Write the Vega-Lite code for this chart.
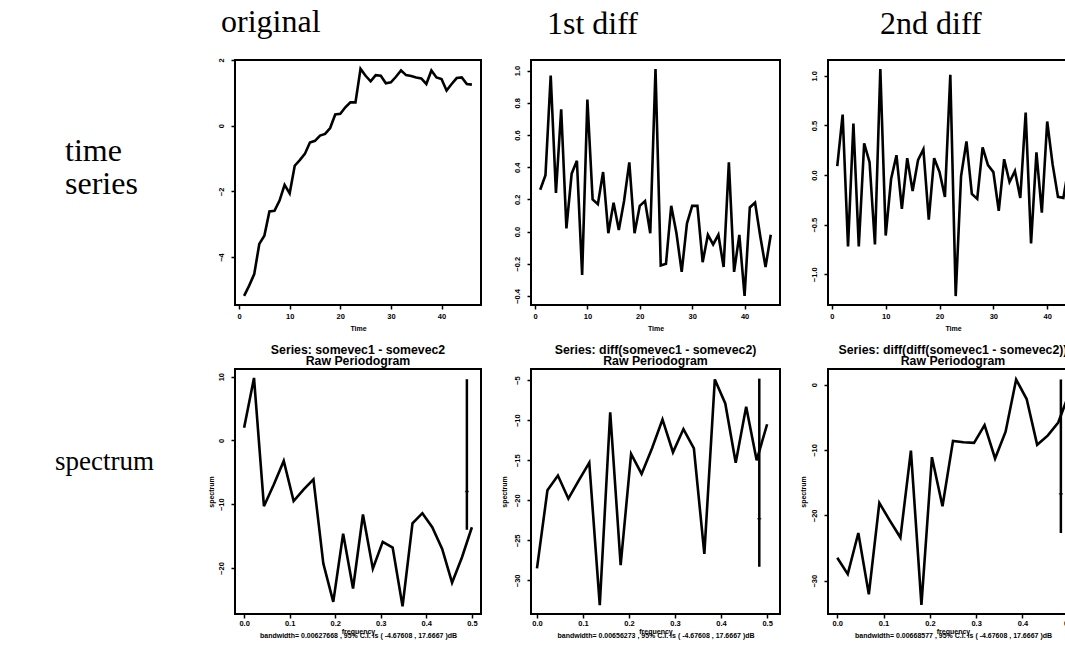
{
  "$schema": "https://vega.github.io/schema/vega-lite/v6.json",
  "background": "white",
  "padding": {"left": 5, "top": 4, "right": 0, "bottom": 0},
  "columns": 4,
  "spacing": {"row": 9, "column": 17},
  "datasets": {
    "orig": [
      {"t":1,"v":-5.18},{"t":2,"v":-4.87},{"t":3,"v":-4.52},{"t":4,"v":-3.60},{"t":5,"v":-3.35},{"t":6,"v":-2.61},{"t":7,"v":-2.59},{"t":8,"v":-2.28},{"t":9,"v":-1.80},{"t":10,"v":-2.06},
      {"t":11,"v":-1.22},{"t":12,"v":-1.05},{"t":13,"v":-0.86},{"t":14,"v":-0.51},{"t":15,"v":-0.46},{"t":16,"v":-0.30},{"t":17,"v":-0.25},{"t":18,"v":-0.07},{"t":19,"v":0.34},{"t":20,"v":0.36},
      {"t":21,"v":0.56},{"t":22,"v":0.71},{"t":23,"v":0.71},{"t":24,"v":1.73},{"t":25,"v":1.52},{"t":26,"v":1.35},{"t":27,"v":1.54},{"t":28,"v":1.52},{"t":29,"v":1.29},{"t":30,"v":1.32},
      {"t":31,"v":1.49},{"t":32,"v":1.68},{"t":33,"v":1.54},{"t":34,"v":1.51},{"t":35,"v":1.47},{"t":36,"v":1.44},{"t":37,"v":1.27},{"t":38,"v":1.68},{"t":39,"v":1.47},{"t":40,"v":1.42},
      {"t":41,"v":1.07},{"t":42,"v":1.27},{"t":43,"v":1.45},{"t":44,"v":1.47},{"t":45,"v":1.27},{"t":46,"v":1.25}
    ],
    "d1": [
      {"t":1,"v":0.26},{"t":2,"v":0.35},{"t":3,"v":0.97},{"t":4,"v":0.24},{"t":5,"v":0.76},{"t":6,"v":0.02},{"t":7,"v":0.36},{"t":8,"v":0.44},{"t":9,"v":-0.27},{"t":10,"v":0.82},
      {"t":11,"v":0.20},{"t":12,"v":0.17},{"t":13,"v":0.37},{"t":14,"v":-0.01},{"t":15,"v":0.18},{"t":16,"v":0.01},{"t":17,"v":0.19},{"t":18,"v":0.43},{"t":19,"v":-0.01},{"t":20,"v":0.16},
      {"t":21,"v":0.19},{"t":22,"v":-0.01},{"t":23,"v":1.01},{"t":24,"v":-0.21},{"t":25,"v":-0.20},{"t":26,"v":0.16},{"t":27,"v":-0.01},{"t":28,"v":-0.25},{"t":29,"v":0.05},{"t":30,"v":0.16},
      {"t":31,"v":0.16},{"t":32,"v":-0.19},{"t":33,"v":-0.02},{"t":34,"v":-0.08},{"t":35,"v":-0.02},{"t":36,"v":-0.22},{"t":37,"v":0.43},{"t":38,"v":-0.25},{"t":39,"v":-0.02},{"t":40,"v":-0.40},
      {"t":41,"v":0.15},{"t":42,"v":0.18},{"t":43,"v":-0.03},{"t":44,"v":-0.22},{"t":45,"v":-0.02}
    ],
    "d2": [
      {"t":1,"v":0.09},{"t":2,"v":0.61},{"t":3,"v":-0.72},{"t":4,"v":0.52},{"t":5,"v":-0.72},{"t":6,"v":0.32},{"t":7,"v":0.13},{"t":8,"v":-0.70},{"t":9,"v":1.07},{"t":10,"v":-0.61},
      {"t":11,"v":-0.04},{"t":12,"v":0.20},{"t":13,"v":-0.34},{"t":14,"v":0.17},{"t":15,"v":-0.16},{"t":16,"v":0.15},{"t":17,"v":0.26},{"t":18,"v":-0.45},{"t":19,"v":0.17},{"t":20,"v":0.03},
      {"t":21,"v":-0.22},{"t":22,"v":1.01},{"t":23,"v":-1.22},{"t":24,"v":-0.01},{"t":25,"v":0.34},{"t":26,"v":-0.19},{"t":27,"v":-0.24},{"t":28,"v":0.28},{"t":29,"v":0.10},{"t":30,"v":0.03},
      {"t":31,"v":-0.36},{"t":32,"v":0.16},{"t":33,"v":-0.07},{"t":34,"v":0.04},{"t":35,"v":-0.23},{"t":36,"v":0.63},{"t":37,"v":-0.69},{"t":38,"v":0.23},{"t":39,"v":-0.38},{"t":40,"v":0.54},
      {"t":41,"v":0.11},{"t":42,"v":-0.22},{"t":43,"v":-0.23},{"t":44,"v":0.09}
    ],
    "sp0": [
      {"f":0.0,"v":2.0},{"f":0.0217,"v":9.8},{"f":0.0435,"v":-10.3},{"f":0.0652,"v":-6.9},{"f":0.0870,"v":-3.2},{"f":0.1087,"v":-9.5},{"f":0.1304,"v":-7.7},{"f":0.1522,"v":-6.1},
      {"f":0.1739,"v":-19.3},{"f":0.1957,"v":-25.3},{"f":0.2174,"v":-14.6},{"f":0.2391,"v":-23.2},{"f":0.2609,"v":-11.6},{"f":0.2826,"v":-20.1},{"f":0.3043,"v":-15.9},{"f":0.3261,"v":-16.8},
      {"f":0.3478,"v":-26.0},{"f":0.3696,"v":-13.0},{"f":0.3913,"v":-11.4},{"f":0.4130,"v":-13.6},{"f":0.4348,"v":-17.0},{"f":0.4565,"v":-22.3},{"f":0.4783,"v":-18.3},{"f":0.5,"v":-13.6}
    ],
    "sp1": [
      {"f":0.0,"v":-28.5},{"f":0.0227,"v":-18.75},{"f":0.0455,"v":-16.9},{"f":0.0682,"v":-19.8},{"f":0.0909,"v":-17.5},{"f":0.1136,"v":-15.3},{"f":0.1364,"v":-33.1},{"f":0.1591,"v":-9.0},
      {"f":0.1818,"v":-28.1},{"f":0.2045,"v":-14.2},{"f":0.2273,"v":-16.7},{"f":0.25,"v":-13.5},{"f":0.2727,"v":-9.9},{"f":0.2955,"v":-14.0},{"f":0.3182,"v":-11.1},{"f":0.3409,"v":-13.5},
      {"f":0.3636,"v":-26.7},{"f":0.3864,"v":-4.9},{"f":0.4091,"v":-7.9},{"f":0.4318,"v":-15.3},{"f":0.4545,"v":-8.3},{"f":0.4773,"v":-15.0},{"f":0.5,"v":-10.5}
    ],
    "sp2": [
      {"f":0.0,"v":-26.5},{"f":0.0227,"v":-29.0},{"f":0.0455,"v":-22.7},{"f":0.0682,"v":-32.1},{"f":0.0909,"v":-18.1},{"f":0.1136,"v":-20.8},{"f":0.1364,"v":-23.4},{"f":0.1591,"v":-10.1},
      {"f":0.1818,"v":-33.7},{"f":0.2045,"v":-11.1},{"f":0.2273,"v":-18.6},{"f":0.25,"v":-8.6},{"f":0.2727,"v":-8.8},{"f":0.2955,"v":-8.9},{"f":0.3182,"v":-6.2},{"f":0.3409,"v":-11.3},
      {"f":0.3636,"v":-7.2},{"f":0.3864,"v":0.8},{"f":0.4091,"v":-2.2},{"f":0.4318,"v":-9.2},{"f":0.4545,"v":-7.8},{"f":0.4773,"v":-5.8},{"f":0.5,"v":-1.5}
    ],
    "ci0": [{"f":0.489,"lo":-14.0,"hi":9.6,"mid":-8.0}],
    "ci1": [{"f":0.483,"lo":-28.3,"hi":-4.8,"mid":-22.3}],
    "ci2": [{"f":0.483,"lo":-22.7,"hi":0.8,"mid":-16.7}]
  },
  "concat": [
    {
      "width": 184, "height": 245,
      "view": {"stroke": null},
      "data": {"values": [{"label": "time series"}]},
      "mark": {"type": "text", "font": "Liberation Serif", "fontSize": 32, "align": "left", "baseline": "alphabetic", "lineBreak": " ", "lineHeight": 33, "dx": -32, "dy": -22, "color": "black"},
      "encoding": {"text": {"field": "label", "type": "nominal"}}
    },
    {
      "width": 246, "height": 245,
      "title": {"text": "original", "font": "Liberation Serif", "fontSize": 32, "fontWeight": "normal", "anchor": "start", "frame": "group", "dx": -14, "offset": 19, "color": "black"},
      "data": {"name": "orig"},
      "mark": {"type": "line", "color": "black", "strokeWidth": 2.6, "clip": true},
      "encoding": {
        "x": {"field": "t", "type": "quantitative", "scale": {"domain": [-0.8, 47.8], "nice": false, "zero": false}, "axis": {"values": [0, 10, 20, 30, 40], "format": "d", "title": "Time"}},
        "y": {"field": "v", "type": "quantitative", "scale": {"domain": [-5.46, 2.0], "nice": false, "zero": false}, "axis": {"values": [-4, -2, 0, 2], "format": "d", "title": null}}
      }
    },
    {
      "width": 249, "height": 245,
      "title": {"text": "1st diff", "font": "Liberation Serif", "fontSize": 32, "fontWeight": "normal", "anchor": "start", "frame": "group", "dx": 16, "offset": 19, "color": "black"},
      "data": {"name": "d1"},
      "mark": {"type": "line", "color": "black", "strokeWidth": 2.6, "clip": true},
      "encoding": {
        "x": {"field": "t", "type": "quantitative", "scale": {"domain": [-0.76, 46.76], "nice": false, "zero": false}, "axis": {"values": [0, 10, 20, 30, 40], "format": "d", "title": "Time"}},
        "y": {"field": "v", "type": "quantitative", "scale": {"domain": [-0.456, 1.066], "nice": false, "zero": false}, "axis": {"values": [-0.4, -0.2, 0, 0.2, 0.4, 0.6, 0.8, 1.0], "format": ".1f", "title": null}}
      }
    },
    {
      "width": 250, "height": 245,
      "title": {"text": "2nd diff", "font": "Liberation Serif", "fontSize": 32, "fontWeight": "normal", "anchor": "start", "frame": "group", "dx": 52, "offset": 19, "color": "black"},
      "data": {"name": "d2"},
      "mark": {"type": "line", "color": "black", "strokeWidth": 2.6, "clip": true},
      "encoding": {
        "x": {"field": "t", "type": "quantitative", "scale": {"domain": [-0.72, 45.72], "nice": false, "zero": false}, "axis": {"values": [0, 10, 20, 30, 40], "format": "d", "title": "Time"}},
        "y": {"field": "v", "type": "quantitative", "scale": {"domain": [-1.31, 1.16], "nice": false, "zero": false}, "axis": {"values": [-1.0, -0.5, 0, 0.5, 1.0], "format": ".1f", "title": null}}
      }
    },
    {
      "width": 184, "height": 245,
      "view": {"stroke": null},
      "data": {"values": [{"label": "spectrum"}]},
      "mark": {"type": "text", "font": "Liberation Serif", "fontSize": 27, "align": "left", "baseline": "alphabetic", "dx": -42, "dy": -22, "color": "black"},
      "encoding": {"text": {"field": "label", "type": "nominal"}}
    },
    {
      "width": 246, "height": 245,
      "title": {"text": ["Series:  somevec1 - somevec2", "Raw Periodogram"], "font": "Liberation Sans", "fontSize": 12.3, "fontWeight": "bold", "lineHeight": 11, "anchor": "middle", "frame": "group", "offset": 2, "color": "black"},
      "layer": [
        {
          "data": {"name": "sp0"},
          "mark": {"type": "line", "color": "black", "strokeWidth": 2.6, "clip": true},
          "encoding": {
            "x": {"field": "f", "type": "quantitative", "scale": {"domain": [-0.02, 0.52], "nice": false, "zero": false}, "axis": {"values": [0, 0.1, 0.2, 0.3, 0.4, 0.5], "format": ".1f", "labelPadding": 1, "titlePadding": 1, "title": ["frequency", "bandwidth= 0.00627668 , 95% C.I. is ( -4.67608 , 17.6667 )dB"], "titleLineHeight": 4}},
            "y": {"field": "v", "type": "quantitative", "scale": {"domain": [-27.2, 11.2], "nice": false, "zero": false}, "axis": {"values": [-20, -10, 0, 10], "format": "d", "title": "spectrum", "titlePadding": 3}}
          }
        },
        {
          "data": {"name": "ci0"},
          "mark": {"type": "rule", "color": "black", "strokeWidth": 2.5},
          "encoding": {"x": {"field": "f", "type": "quantitative"}, "y": {"field": "lo", "type": "quantitative"}, "y2": {"field": "hi"}}
        },
        {
          "data": {"name": "ci0"},
          "mark": {"type": "tick", "orient": "horizontal", "color": "black", "size": 4, "thickness": 1.5},
          "encoding": {"x": {"field": "f", "type": "quantitative"}, "y": {"field": "mid", "type": "quantitative"}}
        }
      ]
    },
    {
      "width": 249, "height": 245,
      "title": {"text": ["Series:  diff(somevec1 - somevec2)", "Raw Periodogram"], "font": "Liberation Sans", "fontSize": 12.3, "fontWeight": "bold", "lineHeight": 11, "anchor": "middle", "frame": "group", "offset": 2, "color": "black"},
      "layer": [
        {
          "data": {"name": "sp1"},
          "mark": {"type": "line", "color": "black", "strokeWidth": 2.6, "clip": true},
          "encoding": {
            "x": {"field": "f", "type": "quantitative", "scale": {"domain": [-0.013, 0.528], "nice": false, "zero": false}, "axis": {"values": [0, 0.1, 0.2, 0.3, 0.4, 0.5], "format": ".1f", "labelPadding": 1, "titlePadding": 1, "title": ["frequency", "bandwidth= 0.00656273 , 95% C.I. is ( -4.67608 , 17.6667 )dB"], "titleLineHeight": 4}},
            "y": {"field": "v", "type": "quantitative", "scale": {"domain": [-34.2, -3.6], "nice": false, "zero": false}, "axis": {"values": [-30, -25, -20, -15, -10, -5], "format": "d", "title": "spectrum", "titlePadding": 6}}
          }
        },
        {
          "data": {"name": "ci1"},
          "mark": {"type": "rule", "color": "black", "strokeWidth": 2.5},
          "encoding": {"x": {"field": "f", "type": "quantitative"}, "y": {"field": "lo", "type": "quantitative"}, "y2": {"field": "hi"}}
        },
        {
          "data": {"name": "ci1"},
          "mark": {"type": "tick", "orient": "horizontal", "color": "black", "size": 4, "thickness": 1.5},
          "encoding": {"x": {"field": "f", "type": "quantitative"}, "y": {"field": "mid", "type": "quantitative"}}
        }
      ]
    },
    {
      "width": 250, "height": 245,
      "title": {"text": ["Series:  diff(diff(somevec1 - somevec2))", "Raw Periodogram"], "font": "Liberation Sans", "fontSize": 12.3, "fontWeight": "bold", "lineHeight": 11, "anchor": "middle", "frame": "group", "offset": 2, "color": "black"},
      "layer": [
        {
          "data": {"name": "sp2"},
          "mark": {"type": "line", "color": "black", "strokeWidth": 2.6, "clip": true},
          "encoding": {
            "x": {"field": "f", "type": "quantitative", "scale": {"domain": [-0.02, 0.52], "nice": false, "zero": false}, "axis": {"values": [0, 0.1, 0.2, 0.3, 0.4, 0.5], "format": ".1f", "labelPadding": 1, "titlePadding": 1, "title": ["frequency", "bandwidth= 0.00668577 , 95% C.I. is ( -4.67608 , 17.6667 )dB"], "titleLineHeight": 4}},
            "y": {"field": "v", "type": "quantitative", "scale": {"domain": [-35.1, 2.4], "nice": false, "zero": false}, "axis": {"values": [-30, -20, -10, 0], "format": "d", "title": "spectrum", "titlePadding": 4}}
          }
        },
        {
          "data": {"name": "ci2"},
          "mark": {"type": "rule", "color": "black", "strokeWidth": 2.5},
          "encoding": {"x": {"field": "f", "type": "quantitative"}, "y": {"field": "lo", "type": "quantitative"}, "y2": {"field": "hi"}}
        },
        {
          "data": {"name": "ci2"},
          "mark": {"type": "tick", "orient": "horizontal", "color": "black", "size": 4, "thickness": 1.5},
          "encoding": {"x": {"field": "f", "type": "quantitative"}, "y": {"field": "mid", "type": "quantitative"}}
        }
      ]
    }
  ],
  "config": {
    "view": {"stroke": "black", "strokeWidth": 2},
    "axis": {"domain": false, "grid": false, "tickColor": "black", "tickWidth": 1.5, "tickSize": 4, "labelFont": "Liberation Sans", "labelFontWeight": "bold", "labelFontSize": 7.5, "labelColor": "black", "labelFlush": false, "labelOverlap": false, "titleFont": "Liberation Sans", "titleFontWeight": "bold", "titleFontSize": 7, "titleColor": "black"},
    "axisX": {"labelPadding": 3, "titlePadding": 5},
    "axisY": {"labelAngle": 270, "labelAlign": "center", "labelBaseline": "bottom", "labelPadding": 6}
  }
}
